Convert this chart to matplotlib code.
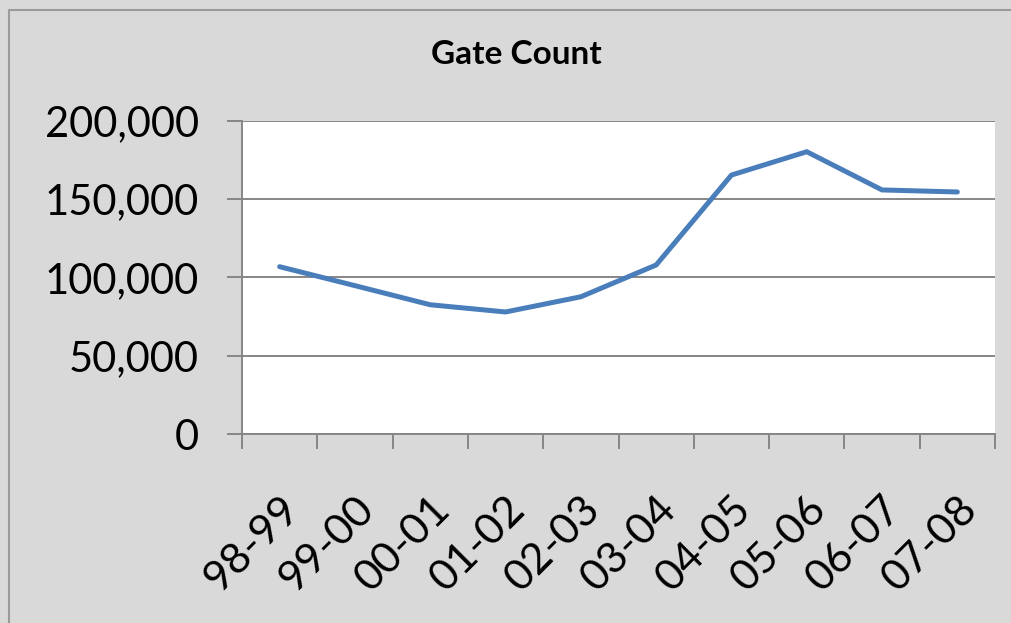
import matplotlib.pyplot as plt
from matplotlib.ticker import FuncFormatter, FixedLocator
from matplotlib.lines import Line2D

# gate count per academic year
years = ["98-99", "99-00", "00-01", "01-02", "02-03",
         "03-04", "04-05", "05-06", "06-07", "07-08"]
gate_count = [106800, 94700, 82500, 77900, 87600,
              107900, 165300, 180200, 155800, 154500]

plt.rcParams['font.family'] = ['Lato', 'DejaVu Sans']

W, H = 1012, 623
fig = plt.figure(figsize=(W / 100, H / 100), dpi=100)
fig.patch.set_facecolor("#d9d9d9")

# outer chart border, only the top and left edges show
bx, by = 9.5 / W, 1 - 9.5 / H
fig.lines.append(Line2D([bx, bx, 1.0], [0.0, by, by], transform=fig.transFigure,
                        color="#9a9a9a", linewidth=1.5))

ax = fig.add_axes([242 / W, 1 - 434 / H, (995 - 242) / W, (434 - 120.7) / H])
ax.set_facecolor("white")

x = list(range(len(years)))
ax.plot(x, gate_count, color="#4a7ebb", linewidth=3.6,
        solid_joinstyle="miter", solid_capstyle="round", zorder=3)

ax.set_xlim(-0.5, len(years) - 0.5)
ax.set_ylim(0, 200000)

ax.set_yticks(range(0, 200001, 50000))
ax.yaxis.set_major_formatter(FuncFormatter(lambda v, p: f"{int(v):,}"))
ax.grid(axis="y", color="#868686", linewidth=1.4)
ax.set_axisbelow(True)

# tick marks between categories, labels at the centres
ax.xaxis.set_major_locator(FixedLocator([i - 0.5 for i in range(len(years) + 1)]))
ax.xaxis.set_major_formatter(FuncFormatter(lambda v, p: ""))
ax.set_xticks(x, minor=True)
ax.set_xticklabels(years, minor=True, rotation=45, ha="right",
                   rotation_mode="anchor", fontsize=31)
ax.tick_params(axis="x", which="major", length=11, width=1.4, color="#868686")
ax.tick_params(axis="x", which="minor", length=0, pad=40)
ax.tick_params(axis="y", length=11, width=1.4, color="#868686",
               labelsize=30, pad=20)

for side in ["top", "right"]:
    ax.spines[side].set_visible(False)
for side in ["left", "bottom"]:
    ax.spines[side].set_color("#868686")
    ax.spines[side].set_linewidth(1.4)

fig.text(516 / W, 1 - 54 / H, "Gate Count", ha="center", va="center",
         fontsize=24, fontweight="bold")

fig.savefig("out.png", dpi=100, facecolor=fig.get_facecolor())
